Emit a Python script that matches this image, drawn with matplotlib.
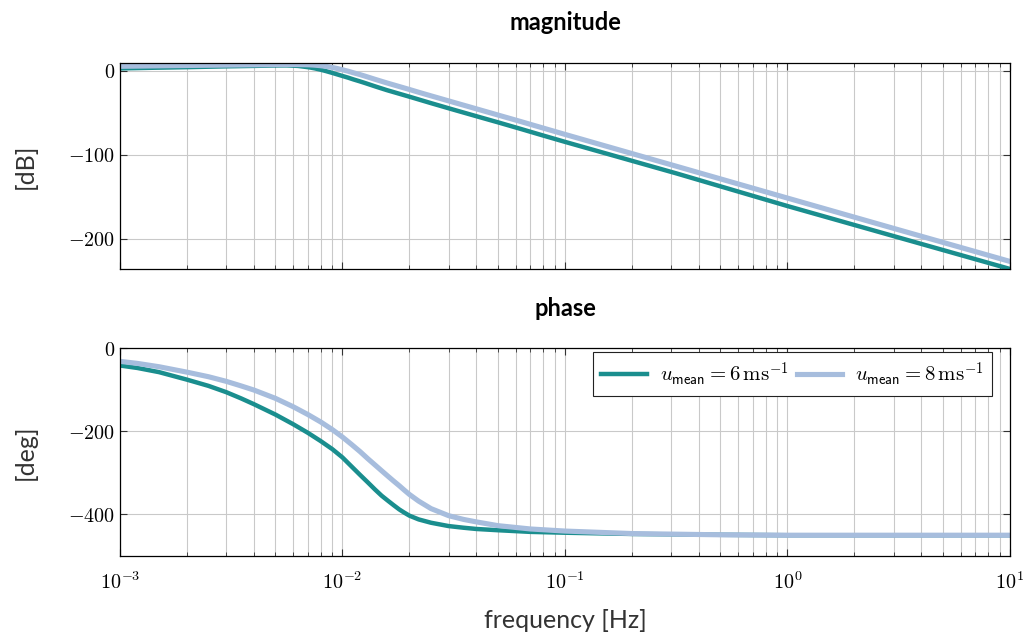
import math
import matplotlib
matplotlib.use('Agg')
import matplotlib.pyplot as plt
from matplotlib.ticker import FuncFormatter, LogLocator, NullFormatter

plt.rcParams['mathtext.fontset'] = 'cm'

# magnitude [dB]
freq_mag = [0.001, 0.00141, 0.002, 0.003, 0.00398, 0.00501, 0.00562, 0.00631,
            0.00708, 0.0075, 0.00794, 0.00841, 0.00891, 0.00944, 0.01, 0.0106,
            0.0112, 0.0119, 0.0126, 0.0141, 0.0158, 0.0178, 0.02, 0.0224,
            0.0251, 0.0316, 0.0398, 0.0501, 0.0631, 0.0794, 0.1, 0.316, 1.0,
            3.16, 10.0]
mag_u6 = [3, 3.8, 4.5, 5.5, 6.0, 6.5, 6.6, 6.0, 4.3, 3.1, 1.6, -0.1, -2.0, -4.0,
          -6.0, -8.0, -10.1, -12.2, -14.3, -18.6, -22.8, -26.8, -30.7, -34.6, -38.5,
          -46.2, -53.8, -61.3, -69, -76.8, -84.5, -122, -161, -198.5, -236]
mag_u8 = [5.5, 6.0, 6.5, 7, 7.3, 7.5, 7.6, 7.6, 7.3, 6.9, 6.3, 5.5, 4.4, 3.0,
          1.4, -0.3, -2.2, -4.1, -6.1, -10.2, -14.2, -18.2, -22.1, -26.0, -29.8,
          -37.4, -45.0, -52.6, -60.2, -67.9, -75.6, -113.5, -151.5, -189.3, -227]

# phase [deg]
freq_ph = [0.001, 0.0012, 0.0015, 0.002, 0.0025, 0.003, 0.0035, 0.004, 0.005,
           0.006, 0.007, 0.008, 0.009, 0.01, 0.011, 0.012, 0.013, 0.014, 0.015,
           0.016, 0.017, 0.018, 0.019, 0.02, 0.022, 0.025, 0.03, 0.035, 0.04,
           0.05, 0.07, 0.1, 0.2, 0.5, 1.0, 10.0]
ph_u6 = [-42, -48, -58, -76, -91, -106, -121, -135, -160, -183, -204, -224,
         -243, -263, -285, -305, -323, -340, -355, -367, -378, -388, -396,
         -403, -412, -420, -428, -432, -435, -438, -442, -444, -447, -449,
         -450, -450]
ph_u8 = [-32, -37, -45, -58, -69, -80, -91, -101, -121, -141, -160, -178,
         -196, -214, -232, -249, -266, -281, -295, -308, -320, -331, -342,
         -352, -368, -386, -403, -412, -418, -427, -435, -440, -446, -449,
         -450, -450]

labels = [r'$u_{\mathsf{mean}} = 6\,\mathrm{m}\mathrm{s}^{-1}$',
          r'$u_{\mathsf{mean}} = 8\,\mathrm{m}\mathrm{s}^{-1}$']
teal = '#1a8e8e'
light = '#a7bddd'
grid_c = '#c9c9c9'

fig = plt.figure(figsize=(10.27, 6.38), dpi=100)
ax1 = fig.add_axes([0.1168, 0.5784, 0.8666, 0.3229])
ax2 = fig.add_axes([0.1168, 0.1285, 0.8666, 0.3260], sharex=ax1)

ax1.plot(freq_mag, mag_u6, color=teal, lw=3.2)
ax1.plot(freq_mag, mag_u8, color=light, lw=3.7)
ax2.plot(freq_ph, ph_u6, color=teal, lw=3.2, label=labels[0])
ax2.plot(freq_ph, ph_u8, color=light, lw=3.7, label=labels[1])

ax1.set_xscale('log')
ax1.set_xlim(1e-3, 10)
ax1.set_ylim(-236, 9.5)
ax2.set_ylim(-500, 0)
ax1.set_yticks([0, -100, -200])
ax2.set_yticks([0, -200, -400])

yfmt = FuncFormatter(lambda v, p: r'$%d$' % v)
xfmt = FuncFormatter(lambda v, p: r'$10^{%d}$' % round(math.log10(v)))
for ax in (ax1, ax2):
    ax.yaxis.set_major_formatter(yfmt)
    ax.xaxis.set_major_locator(LogLocator(base=10, numticks=10))
    ax.xaxis.set_minor_locator(LogLocator(base=10, subs=range(2, 10), numticks=20))
    ax.xaxis.set_minor_formatter(NullFormatter())
    ax.grid(True, which='major', color=grid_c, lw=0.8)
    ax.grid(True, which='minor', axis='x', color=grid_c, lw=0.8)
    ax.set_axisbelow(True)
    ax.tick_params(which='both', direction='in', top=True, right=True,
                   labelsize=14.5, color='#333333')
    ax.tick_params(which='major', length=5, width=0.8)
    ax.tick_params(which='minor', length=3, width=0.6)
    for s in ax.spines.values():
        s.set_linewidth(0.9)
ax2.xaxis.set_major_formatter(xfmt)
ax1.tick_params(labelbottom=False)
ax2.tick_params(axis='x', pad=11)

title_kw = dict(fontsize=17, fontweight='bold', family=['Lato', 'DejaVu Sans'])
ax1.set_title('magnitude', pad=24, **title_kw)
ax2.set_title('phase', pad=23, **title_kw)

lab_kw = dict(fontsize=18, color='#333333', family=['Lato', 'DejaVu Sans'])
ax1.set_ylabel('[dB]', **lab_kw)
ax2.set_ylabel('[deg]', **lab_kw)
ax2.set_xlabel('frequency [Hz]', labelpad=12, **lab_kw)
ax1.yaxis.set_label_coords(-0.094, 0.5)
ax2.yaxis.set_label_coords(-0.094, 0.5)

ax2.legend(loc='upper right', bbox_to_anchor=(0.9798, 0.981), ncol=2,
           fontsize=15, frameon=True, fancybox=False, edgecolor='#222222',
           framealpha=1, handlelength=2.2, handletextpad=0.6,
           columnspacing=0.4, borderpad=0.4, borderaxespad=0)
ax2.get_legend().get_frame().set_linewidth(0.8)

fig.savefig('out.png', dpi=100)
